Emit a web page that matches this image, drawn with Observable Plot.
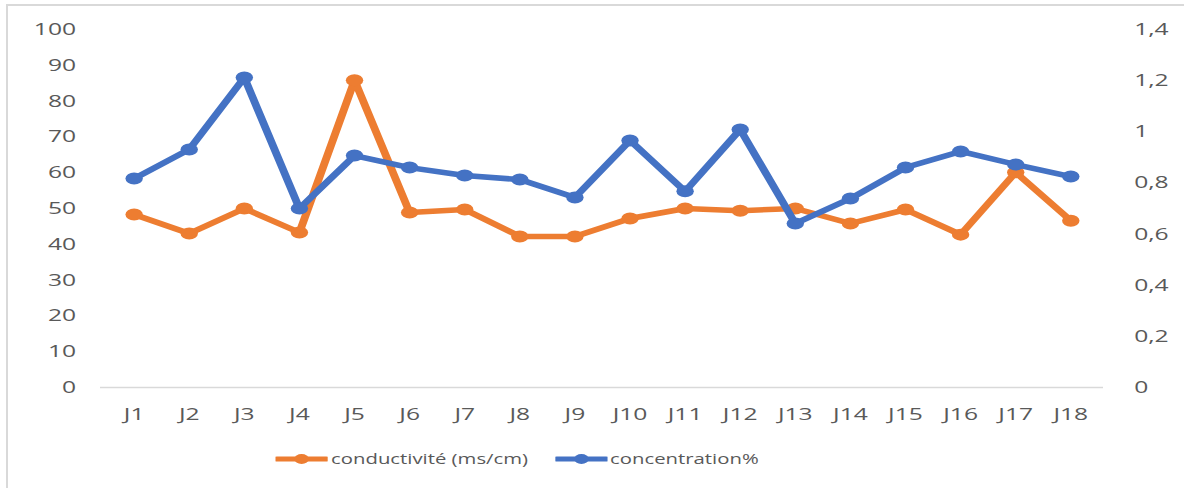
<!DOCTYPE html>
<html>
<head>
<meta charset="utf-8">
<script src="https://cdn.jsdelivr.net/npm/d3@7"></script>
<script src="https://cdn.jsdelivr.net/npm/@observablehq/plot@0.6"></script>
<style>
  html, body { margin: 0; padding: 0; background: #fff; }
  body { width: 1184px; height: 488px; overflow: hidden; position: relative; font-family: "Open Sans", sans-serif; }
  #frame { position: absolute; left: 6px; top: 4px; right: -4px; bottom: -4px; border-left: 2px solid #d9d9d9; border-top: 2px solid #d9d9d9; pointer-events: none; }
  #wrap { position: absolute; left: 0; top: 0; transform-origin: 0 0; }
  #legend { position: relative; height: 48px; }
  .item { position: absolute; top: 0; height: 38px; display: flex; align-items: center; font-size: 14px; color: #595959; white-space: nowrap; }
</style>
</head>
<body>
<div id="frame"></div>
<div id="wrap"></div>
<script>
// ---- data ----
const days = ["J1","J2","J3","J4","J5","J6","J7","J8","J9","J10","J11","J12","J13","J14","J15","J16","J17","J18"];
const conductivite = [48.3, 43.0, 50.0, 43.3, 85.8, 48.9, 49.7, 42.2, 42.2, 47.2, 50.0, 49.4, 50.0, 45.8, 49.7, 42.7, 60.1, 46.6];
const concentration = [0.817, 0.931, 1.212, 0.700, 0.907, 0.860, 0.829, 0.813, 0.743, 0.966, 0.767, 1.009, 0.641, 0.739, 0.860, 0.923, 0.872, 0.825];
const leftTicks = [0, 10, 20, 30, 40, 50, 60, 70, 80, 90, 100];
const rightTicks = [0, 0.2, 0.4, 0.6, 0.8, 1, 1.2, 1.4];
const rightTickLabels = ["0", "0,2", "0,4", "0,6", "0,8", "1", "1,2", "1,4"];
const seriesNames = ["conductivité (ms/cm)", "concentration%"];
const seriesColors = ["#ED7D31", "#4472C4"];

const leftMax = 100, rightMax = 1.4;
const S = 1.45;              // horizontal stretch of the reference picture
const W = 1184 / S;

const table = days.map((d, i) => ({
  day: d,
  cond: conductivite[i],
  conc: concentration[i] * leftMax / rightMax
}));
const rightScaled = rightTicks.map(v => v * leftMax / rightMax);

const chart = Plot.plot({
  width: W,
  height: 440,
  marginLeft: 100 / S,
  marginRight: W - 1103 / S,
  marginTop: 29,
  marginBottom: 53,
  style: { fontFamily: "Open Sans, sans-serif", color: "#595959", background: "transparent", overflow: "visible" },
  x: { type: "point", domain: days, padding: 0.5 },
  y: { domain: [0, leftMax] },
  marks: [
    Plot.ruleY([0], { stroke: "#d9d9d9", strokeWidth: 1.5 }),
    Plot.axisY({ anchor: "left", ticks: leftTicks, tickSize: 0, tickPadding: 17, fontSize: 17, tickFormat: d => String(d) }),
    Plot.axisY({ anchor: "right", ticks: rightScaled, tickSize: 0, tickPadding: 21, fontSize: 17, textAnchor: "start",
      tickFormat: d => { const i = rightScaled.indexOf(d); return i >= 0 ? rightTickLabels[i] : String(+(d * rightMax / leftMax).toFixed(1)).replace(".", ","); } }),
    Plot.axisX({ anchor: "bottom", tickSize: 0, tickPadding: 20, fontSize: 17, label: null }),
    Plot.lineY(table, { x: "day", y: "cond", stroke: seriesColors[0], strokeWidth: 5.5 }),
    Plot.dot(table, { x: "day", y: "cond", r: 6, fill: seriesColors[0] }),
    Plot.lineY(table, { x: "day", y: "conc", stroke: seriesColors[1], strokeWidth: 5.5 }),
    Plot.dot(table, { x: "day", y: "conc", r: 6, fill: seriesColors[1] })
  ]
});

const wrap = document.getElementById("wrap");
wrap.style.width = W + "px";
wrap.style.transform = `scaleX(${S})`;
wrap.appendChild(chart);

// legend
const legend = document.createElement("div");
legend.id = "legend";
const legendLeft = [276 / S, 555 / S];
seriesNames.forEach((name, i) => {
  const item = document.createElement("div");
  item.className = "item";
  item.style.left = legendLeft[i] + "px";
  const ns = "http://www.w3.org/2000/svg";
  const svg = document.createElementNS(ns, "svg");
  svg.setAttribute("width", 36);
  svg.setAttribute("height", 14);
  svg.style.marginRight = "2px";
  const ln = document.createElementNS(ns, "line");
  ln.setAttribute("x1", 1); ln.setAttribute("x2", 35); ln.setAttribute("y1", 7); ln.setAttribute("y2", 7);
  ln.setAttribute("stroke", seriesColors[i]); ln.setAttribute("stroke-width", 5);
  ln.setAttribute("stroke-linecap", "round");
  const c = document.createElementNS(ns, "circle");
  c.setAttribute("cx", 18); c.setAttribute("cy", 7); c.setAttribute("r", 5);
  c.setAttribute("fill", seriesColors[i]);
  svg.appendChild(ln); svg.appendChild(c);
  const span = document.createElement("span");
  span.textContent = name;
  item.appendChild(svg); item.appendChild(span);
  legend.appendChild(item);
});
wrap.appendChild(legend);
</script>
</body>
</html>
